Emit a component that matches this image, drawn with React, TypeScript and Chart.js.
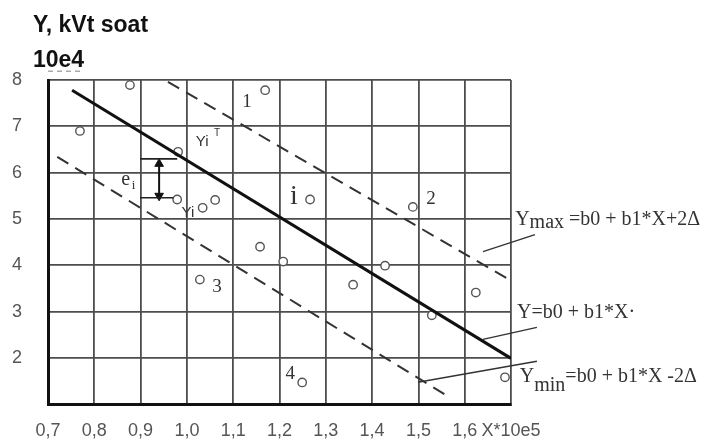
import React, { useEffect, useRef } from 'react';
import { Chart, registerables } from 'chart.js';

Chart.register(...registerables);

// ---- axis ticks ----
const xTickValues = [0.7, 0.8, 0.9, 1.0, 1.1, 1.2, 1.3, 1.4, 1.5, 1.6, 1.7];
const xTickLabels = ['0,7', '0,8', '0,9', '1,0', '1,1', '1,2', '1,3', '1,4', '1,5', '1,6', 'X*10e5'];
const yTickValues = [1, 2, 3, 4, 5, 6, 7, 8];
const yTickLabels = ['', '2', '3', '4', '5', '6', '7', '8'];

// ---- observed points ----
const pointX = [0.769, 0.877, 1.169, 0.981, 0.979, 1.034, 1.061, 1.266, 1.158, 1.208, 1.028, 1.359, 1.428, 1.249, 1.488, 1.529, 1.624, 1.687];
const pointY = [6.90, 7.89, 7.78, 6.45, 5.42, 5.24, 5.41, 5.42, 4.40, 4.08, 3.69, 3.58, 3.99, 1.47, 5.26, 2.92, 3.41, 1.58];

// ---- lines ----
const regX = [0.752, 1.7];
const regY = [7.78, 1.99];
const maxX = [0.959, 1.691];
const maxY = [7.96, 3.72];
const minX = [0.72, 1.564];
const minY = [6.34, 1.17];

// leader lines for formulas
const leadMaxX = [1.6395, 1.7518];
const leadMaxY = [4.295, 4.661];
const leadRegX = [1.6395, 1.756];
const leadRegY = [2.40, 2.658];
const leadMinX = [1.499, 1.756];
const leadMinY = [1.474, 1.926];

// e_i bracket
const bracketTopX = [0.899, 0.979];
const bracketTopY = [6.298, 6.298];
const bracketBotX = [0.899, 0.971];
const bracketBotY = [5.458, 5.458];
const arrowX = [0.940, 0.940];
const arrowY = [6.19, 5.50];

// small dashed stub under title
const stubX = [0.7, 0.776];
const stubY = [8.19, 8.19];

const zip = (xs: number[], ys: number[]) => xs.map((x, i) => ({ x, y: ys[i] }));

const SERIF = '"Liberation Serif", "Times New Roman", serif';
const SANS = '"Liberation Sans", Arial, sans-serif';

type Seg = { t: string; size: number; dy?: number; family?: string };
type TextItem = { x: number; y: number; segs: Seg[]; align?: 'left' | 'center' };

const textItems: TextItem[] = [
  { x: 1.130, y: 7.53, segs: [{ t: '1', size: 19 }], align: 'center' },
  { x: 1.527, y: 5.42, segs: [{ t: '2', size: 19 }], align: 'center' },
  { x: 1.065, y: 3.54, segs: [{ t: '3', size: 19 }], align: 'center' },
  { x: 1.223, y: 1.65, segs: [{ t: '4', size: 19 }], align: 'center' },
  { x: 1.231, y: 5.48, segs: [{ t: 'i', size: 28 }], align: 'center' },
  { x: 1.033, y: 6.66, segs: [{ t: 'Yi', size: 15, family: SANS }], align: 'center' },
  { x: 1.065, y: 6.86, segs: [{ t: 'T', size: 10, family: SANS }], align: 'center' },
  { x: 1.002, y: 5.14, segs: [{ t: 'Yi', size: 15, family: SANS }], align: 'center' },
  { x: 0.868, y: 5.85, segs: [{ t: 'e', size: 20 }], align: 'center' },
  { x: 0.885, y: 5.73, segs: [{ t: 'i', size: 13 }], align: 'center' },
];

// formula texts (baseline positions in data units)
const formulaItems: TextItem[] = [
  { x: 1.709, y: 4.88, segs: [{ t: 'Y', size: 20 }, { t: 'max', size: 20, dy: 3 }, { t: ' =b0 + b1*X+2\u0394', size: 20 }] },
  { x: 1.713, y: 2.87, segs: [{ t: 'Y=b0 + b1*X\u00b7', size: 20 }] },
  { x: 1.719, y: 1.47, segs: [{ t: 'Y', size: 20 }, { t: 'min', size: 20, dy: 9 }, { t: '=b0 + b1*X -2\u0394', size: 20 }] },
];

const annotPlugin = {
  id: 'annot',
  afterDatasetsDraw(chart: any) {
    const { ctx, scales } = chart;
    const xs = scales.x;
    const ys = scales.y;
    ctx.save();
    // title
    ctx.fillStyle = '#111';
    ctx.textAlign = 'left';
    ctx.textBaseline = 'alphabetic';
    ctx.font = `bold 23px ${SANS}`;
    ctx.fillText('Y, kVt soat', 33, 32);
    ctx.fillText('10e4', 33, 67);

    ctx.fillStyle = '#333';
    const drawItem = (it: TextItem, baseline: 'middle' | 'alphabetic') => {
      let px = xs.getPixelForValue(it.x);
      const py = ys.getPixelForValue(it.y);
      ctx.textBaseline = baseline;
      if (it.align === 'center') {
        ctx.textAlign = 'center';
        for (const s of it.segs) {
          ctx.font = `${s.size}px ${s.family || SERIF}`;
          ctx.fillText(s.t, px, py + (s.dy || 0));
        }
        return;
      }
      ctx.textAlign = 'left';
      for (const s of it.segs) {
        ctx.font = `${s.size}px ${s.family || SERIF}`;
        ctx.fillText(s.t, px, py + (s.dy || 0));
        px += ctx.measureText(s.t).width;
      }
    };
    textItems.forEach((it) => drawItem(it, 'middle'));
    formulaItems.forEach((it) => drawItem(it, 'alphabetic'));
    ctx.restore();
  },
};

export default function App() {
  const ref = useRef<HTMLCanvasElement | null>(null);
  useEffect(() => {
    if (!ref.current) return;
    const thin = { borderColor: '#333', borderWidth: 1.4, pointRadius: 0, showLine: true, clip: false as any, fill: false };
    const chart = new Chart(ref.current, {
      type: 'scatter',
      data: {
        datasets: [
          { data: zip(regX, regY), borderColor: '#111', borderWidth: 3, pointRadius: 0, showLine: true },
          { data: zip(maxX, maxY), borderColor: '#333', borderWidth: 2, borderDash: [13, 8], pointRadius: 0, showLine: true },
          { data: zip(minX, minY), borderColor: '#333', borderWidth: 2, borderDash: [13, 8], pointRadius: 0, showLine: true },
          { data: zip(leadMaxX, leadMaxY), ...thin },
          { data: zip(leadRegX, leadRegY), ...thin },
          { data: zip(leadMinX, leadMinY), ...thin },
          { data: zip(bracketTopX, bracketTopY), ...thin, borderColor: '#222', borderWidth: 1.6 },
          { data: zip(bracketBotX, bracketBotY), ...thin, borderColor: '#222', borderWidth: 1.6 },
          {
            data: zip(arrowX, arrowY), borderColor: '#111', borderWidth: 2, showLine: true,
            pointStyle: 'triangle', pointRadius: 5, pointRotation: [0, 180] as any,
            pointBackgroundColor: '#111', pointBorderColor: '#111', pointBorderWidth: 1,
          },
          { data: zip(stubX, stubY), borderColor: '#aaa', borderWidth: 1.5, borderDash: [5, 4], pointRadius: 0, showLine: true, clip: false as any },
          {
            data: zip(pointX, pointY), showLine: false, pointStyle: 'circle', pointRadius: 4.2,
            pointBackgroundColor: '#fff', pointBorderColor: '#555', pointBorderWidth: 1.4,
          },
        ],
      },
      options: {
        animation: false,
        responsive: false,
        events: [],
        layout: { padding: { top: 80, right: 201, left: 0, bottom: 0 } },
        plugins: { legend: { display: false }, tooltip: { enabled: false }, title: { display: false } },
        scales: {
          x: {
            type: 'linear',
            min: 0.7,
            max: 1.7,
            afterBuildTicks: (s: any) => { s.ticks = xTickValues.map((v) => ({ value: v })); },
            afterFit: (s: any) => { s.height = 36; },
            ticks: {
              autoSkip: false,
              maxRotation: 0,
              padding: 16,
              color: '#555',
              font: { family: SANS, size: 18 },
              callback: (_v: any, i: number) => xTickLabels[i],
            },
            grid: { color: '#4d4d4d', lineWidth: 1.8, drawTicks: false },
            border: { display: true, color: '#111', width: 3 },
          },
          y: {
            type: 'linear',
            min: 1,
            max: 8,
            afterBuildTicks: (s: any) => { s.ticks = yTickValues.map((v) => ({ value: v })); },
            afterFit: (s: any) => { s.width = 48; },
            ticks: {
              padding: 26,
              color: '#555',
              font: { family: SANS, size: 18 },
              callback: (_v: any, i: number) => yTickLabels[i],
            },
            grid: { color: '#4d4d4d', lineWidth: 1.8, drawTicks: false },
            border: { display: true, color: '#111', width: 3 },
          },
        },
      },
      plugins: [annotPlugin],
    });
    return () => chart.destroy();
  }, []);
  return (
    <div style={{ position: 'absolute', left: 0, top: 0, width: 712, height: 441, background: '#fff' }}>
      <canvas ref={ref} width={712} height={441} style={{ width: 712, height: 441, display: 'block' }} />
    </div>
  );
}
